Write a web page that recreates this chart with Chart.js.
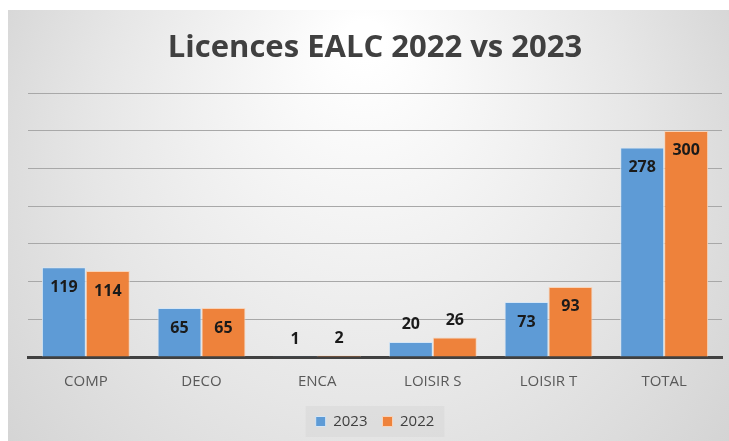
<!DOCTYPE html>
<html>
<head>
<meta charset="utf-8">
<script src="https://cdn.jsdelivr.net/npm/chart.js@4"></script>
<style>
  html, body { margin: 0; padding: 0; background: #fff; }
  #wrap { width: 729px; height: 441px; }
</style>
</head>
<body>
<div id="wrap"><canvas id="licChart" width="729" height="441"></canvas></div>
<script>
// chart data
const categories = ["COMP", "DECO", "ENCA", "LOISIR S", "LOISIR T", "TOTAL"];
const values2023 = [119, 65, 1, 20, 73, 278];
const values2022 = [114, 65, 2, 26, 93, 300];
const seriesNames = ["2023", "2022"];

// gray gradient panel behind the chart
const panelBg = {
  id: "panelBg",
  beforeDraw(chart) {
    const c = chart.ctx;
    const g = c.createRadialGradient(365, 40, 20, 365, 220, 480);
    g.addColorStop(0, "#ffffff");
    g.addColorStop(0.55, "#e6e6e6");
    g.addColorStop(1, "#cfcfcf");
    c.save();
    c.fillStyle = g;
    c.fillRect(8, 10, chart.width - 8, chart.height - 10);
    // legend box, only around the items
    const boxes = chart.legend.legendHitBoxes || [];
    if (boxes.length) {
      const x0 = Math.min(...boxes.map(b => b.left)) - 10;
      const x1 = Math.max(...boxes.map(b => b.left + b.width)) + 10;
      const y0 = Math.min(...boxes.map(b => b.top)) - 8;
      const y1 = Math.max(...boxes.map(b => b.top + b.height)) + 8;
      c.fillStyle = "rgba(215,215,215,0.55)";
      c.fillRect(x0, y0, x1 - x0, y1 - y0);
    }
    c.restore();
  }
};

// value labels: inside the top of tall bars, above short ones
const valueLabels = {
  id: "valueLabels",
  afterDatasetsDraw(chart) {
    const c = chart.ctx;
    c.save();
    c.font = "bold 16px 'Open Sans'";
    c.fillStyle = "#1a1a1a";
    c.textAlign = "center";
    c.textBaseline = "middle";
    chart.data.datasets.forEach((ds, i) => {
      chart.getDatasetMeta(i).data.forEach((bar, j) => {
        const h = bar.base - bar.y;
        const y = h > 36 ? bar.y + 20 : bar.y - 17;
        c.fillText(ds.data[j], bar.x, y);
      });
    });
    c.restore();
  }
};

const ctx = document.getElementById("licChart").getContext("2d");
new Chart(ctx, {
  type: "bar",
  data: {
    labels: categories,
    datasets: [{
      label: seriesNames[0],
      data: values2023,
      backgroundColor: "#5e9bd6",
      borderColor: "#d6e6f5",
      borderWidth: 1
    }, {
      label: seriesNames[1],
      data: values2022,
      backgroundColor: "#ee823b",
      borderColor: "#f8d3b8",
      borderWidth: 1
    }]
  },
  options: {
    responsive: false,
    animation: false,
    layout: { padding: { left: 28, right: 7, top: 12, bottom: 2 } },
    datasets: { bar: { categoryPercentage: 0.76, barPercentage: 1.0 } },
    plugins: {
      title: {
        display: true,
        text: "Licences EALC 2022 vs 2023",
        color: "#404040",
        font: { family: "'Open Sans'", size: 31, weight: "bold" },
        padding: { top: 18, bottom: 26 }
      },
      legend: {
        position: "bottom",
        labels: {
          boxWidth: 10,
          boxHeight: 10,
          color: "#404040",
          font: { family: "'Open Sans'", size: 15 },
          padding: 15
        }
      },
      tooltip: { enabled: false }
    },
    scales: {
      x: {
        grid: { display: false },
        border: { color: "#404040", width: 3 },
        ticks: { color: "#595959", font: { family: "'Open Sans'", size: 15 }, padding: 8 }
      },
      y: {
        min: 0,
        max: 350,
        ticks: { display: false, stepSize: 50 },
        border: { display: false },
        grid: { color: "#a8a8a8", lineWidth: 1, drawTicks: false }
      }
    }
  },
  plugins: [panelBg, valueLabels]
});
</script>
</body>
</html>
